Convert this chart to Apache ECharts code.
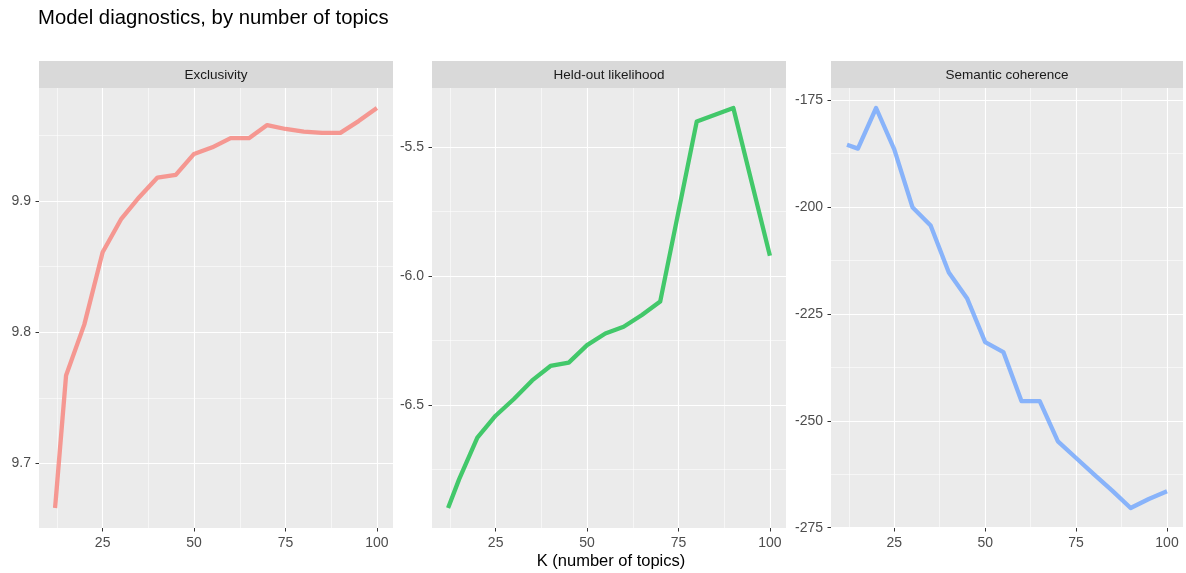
<!DOCTYPE html>
<html><head><meta charset="utf-8">
<script src="https://cdn.jsdelivr.net/npm/echarts@6/dist/echarts.min.js"></script>
<style>html,body{margin:0;padding:0;background:#fff}#c{width:1186px;height:573px}</style>
</head><body><div id="c"></div>
<script>
const K = [12, 15, 20, 25, 30, 35, 40, 45, 50, 55, 60, 65, 70, 75, 80, 85, 90, 95, 100];
const exclusivity = [9.666, 9.767, 9.806, 9.861, 9.886, 9.903, 9.918, 9.920, 9.936, 9.941, 9.948, 9.948, 9.958, 9.955, 9.953, 9.952, 9.952, 9.961, 9.971];
const heldout = [-6.900, -6.789, -6.627, -6.542, -6.477, -6.405, -6.349, -6.336, -6.268, -6.223, -6.197, -6.151, -6.099, -5.750, -5.400, -5.374, -5.348, -5.635, -5.921];
const coherence = [-185.4, -186.3, -176.8, -186.5, -200.0, -204.3, -215.3, -221.3, -231.6, -233.9, -245.4, -245.4, -254.8, -258.7, -262.6, -266.4, -270.4, -268.3, -266.5];
const panelTitles = ['Exclusivity', 'Held-out likelihood', 'Semantic coherence'];
const xTicks = [25, 50, 75, 100];
const xMinor = [12.5, 37.5, 62.5, 87.5];
const yTicks1 = [9.7, 9.8, 9.9];
const yMinor1 = [9.65, 9.75, 9.85, 9.95];
const yTicks2 = [-6.5, -6.0, -5.5];
const yMinor2 = [-6.75, -6.25, -5.75];
const yTicks3 = [-275, -250, -225, -200, -175];
const yMinor3 = [-262.5, -237.5, -212.5, -187.5];

const seriesData = [exclusivity, heldout, coherence];
const colors = ['rgba(248,118,109,0.72)', 'rgba(0,186,56,0.72)', 'rgba(97,156,255,0.72)'];
const yTicks = [yTicks1, yTicks2, yTicks3];
const yMinor = [yMinor1, yMinor2, yMinor3];
const yDecimals = [1, 1, 0];

const layout = [{left: 39, width: 354}, {left: 432, width: 354}, {left: 831, width: 352}];
const TOP = 88, HEIGHT = 440, STRIP_H = 27;
const FONT = '"Liberation Sans", Arial, sans-serif';

function expand(arr) {
  const mn = Math.min(...arr), mx = Math.max(...arr), d = (mx - mn) * 0.05;
  return [mn - d, mx + d];
}
const xr = expand(K);

const grid = [], xAxis = [], yAxis = [], series = [], graphic = [];
layout.forEach((p, i) => {
  grid.push({left: p.left, top: TOP, width: p.width, height: HEIGHT, show: true,
    backgroundColor: '#EBEBEB', borderWidth: 0, containLabel: false});
  const yr = expand(seriesData[i]);
  xAxis.push({type: 'value', gridIndex: i, min: xr[0], max: xr[1],
    axisLine: {show: false},
    axisTick: {show: true, length: 3.5, lineStyle: {color: '#333', width: 1}, customValues: xTicks},
    axisLabel: {show: true, customValues: xTicks, color: '#4D4D4D', fontSize: 14, fontFamily: FONT, margin: 8},
    splitLine: {show: true, lineStyle: {color: '#FFFFFF', width: 1.1}}});
  xAxis.push({type: 'value', gridIndex: i, min: xr[0], max: xr[1], position: 'top',
    axisLine: {show: false},
    axisTick: {show: false, customValues: xMinor},
    axisLabel: {show: false, customValues: xMinor},
    splitLine: {show: true, lineStyle: {color: '#FFFFFF', width: 0.55}}});
  yAxis.push({type: 'value', gridIndex: i, min: yr[0], max: yr[1],
    axisLine: {show: false},
    axisTick: {show: true, length: 3.5, lineStyle: {color: '#333', width: 1}, customValues: yTicks[i]},
    axisLabel: {show: true, customValues: yTicks[i], color: '#4D4D4D', fontSize: 14, fontFamily: FONT, margin: 8,
      formatter: (v) => Number(v).toFixed(yDecimals[i])},
    splitLine: {show: true, lineStyle: {color: '#FFFFFF', width: 1.1}}});
  yAxis.push({type: 'value', gridIndex: i, min: yr[0], max: yr[1], position: 'right',
    axisLine: {show: false},
    axisTick: {show: false, customValues: yMinor[i]},
    axisLabel: {show: false, customValues: yMinor[i]},
    splitLine: {show: true, lineStyle: {color: '#FFFFFF', width: 0.55}}});
  series.push({type: 'line', name: panelTitles[i], xAxisIndex: 2 * i, yAxisIndex: 2 * i,
    data: K.map((k, j) => [k, seriesData[i][j]]),
    showSymbol: false, symbol: 'none', smooth: false, z: 5,
    lineStyle: {color: colors[i], width: 4.3, join: 'round', cap: 'butt'},
    emphasis: {disabled: true}});
  graphic.push({type: 'rect', left: p.left, top: TOP - STRIP_H,
    shape: {width: p.width, height: STRIP_H}, style: {fill: '#D9D9D9'}, silent: true});
  graphic.push({type: 'text', x: p.left + p.width / 2, y: TOP - STRIP_H / 2 + 1,
    style: {text: panelTitles[i], fill: '#1A1A1A', font: '13.5px ' + FONT, textAlign: 'center', textVerticalAlign: 'middle'}, silent: true});
});
graphic.push({type: 'text', x: (layout[0].left + layout[2].left + layout[2].width) / 2, y: 561,
  style: {text: 'K (number of topics)', fill: '#000', font: '16.5px ' + FONT, textAlign: 'center', textVerticalAlign: 'middle'}, silent: true});

const chart = echarts.init(document.getElementById('c'), null, {renderer: 'canvas'});
chart.setOption({
  animation: false,
  backgroundColor: '#FFFFFF',
  title: {text: 'Model diagnostics, by number of topics', left: 38, top: 8, padding: 0,
    textStyle: {color: '#000', fontSize: 20.3, fontWeight: 'normal', fontFamily: FONT}},
  grid, xAxis, yAxis, series, graphic
});
</script></body></html>
